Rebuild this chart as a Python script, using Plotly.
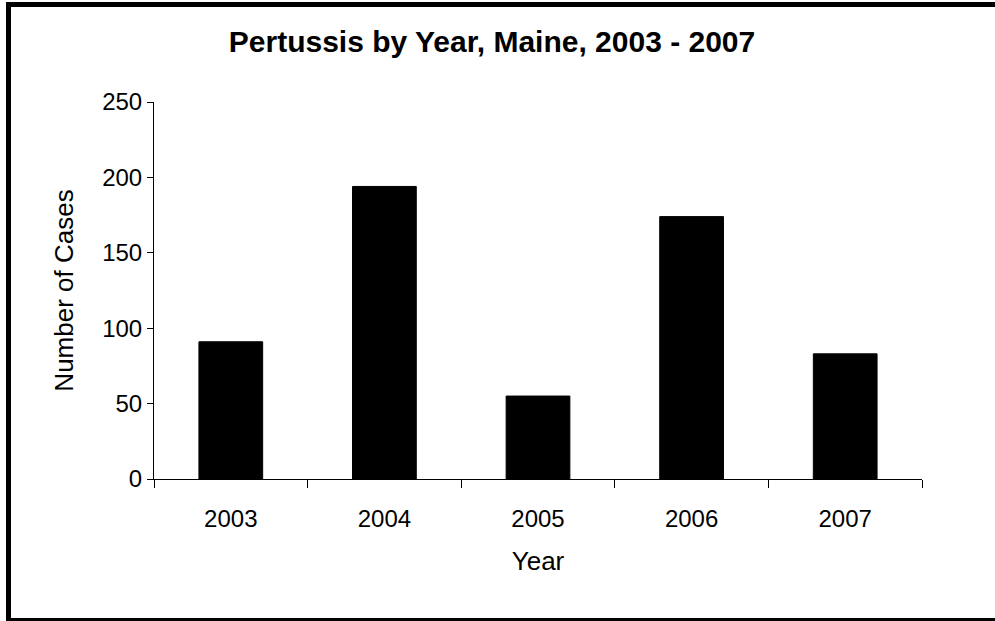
import plotly.graph_objects as go

# data
years = ["2003", "2004", "2005", "2006", "2007"]
cases = [91, 194, 55, 174, 83]

FONT = "Liberation Sans, Arial, sans-serif"

fig = go.Figure()
fig.add_trace(go.Bar(
    x=years,
    y=cases,
    marker=dict(color="black", line=dict(color="black", width=1)),
    hoverinfo="x+y",
))

# plot area in pixels: x 154..922, y 102..479
L, R, T, B = 154, 922, 102, 479
W, H = 995, 621


def px(p):
    return (p - L) / (R - L)


def py(q):
    return (B - q) / (B - T)


# outer frame like the Excel chart border
fig.add_shape(
    type="rect", xref="paper", yref="paper",
    x0=px(8.5), x1=px(1005), y0=py(620.5), y1=py(4.5),
    line=dict(color="black", width=5),
    fillcolor="rgba(0,0,0,0)",
    layer="below",
)

fig.update_layout(
    width=W, height=H,
    margin=dict(l=L, r=W - R, t=T, b=H - B),
    paper_bgcolor="white",
    plot_bgcolor="white",
    bargap=0.585,
    showlegend=False,
    font=dict(family=FONT, size=24, color="black"),
    title=dict(
        text="<b>Pertussis by Year, Maine, 2003 - 2007</b>",
        x=492 / W, xref="container", xanchor="center",
        y=1 - 41 / H, yref="container", yanchor="middle",
        font=dict(family=FONT, size=30, color="black"),
    ),
)

fig.update_xaxes(
    type="category",
    showline=True, linecolor="black", linewidth=1,
    ticks="outside", tickson="boundaries", ticklen=8,
    tickcolor="black", tickwidth=1,
    ticklabelstandoff=18,
    showgrid=False, zeroline=False,
    tickfont=dict(size=24),
    title=dict(text="Year", font=dict(size=26), standoff=21),
)
fig.update_yaxes(
    range=[0, 250], dtick=50,
    showline=True, linecolor="black", linewidth=1,
    ticks="outside", ticklen=6, tickcolor="black", tickwidth=1,
    showgrid=False, zeroline=False,
    tickfont=dict(size=24),
    title=dict(text="Number of Cases", font=dict(size=26), standoff=21),
)

fig.write_html(
    "out.html",
    config={"displayModeBar": False},
    post_script="document.body.style.margin='0';",
)
